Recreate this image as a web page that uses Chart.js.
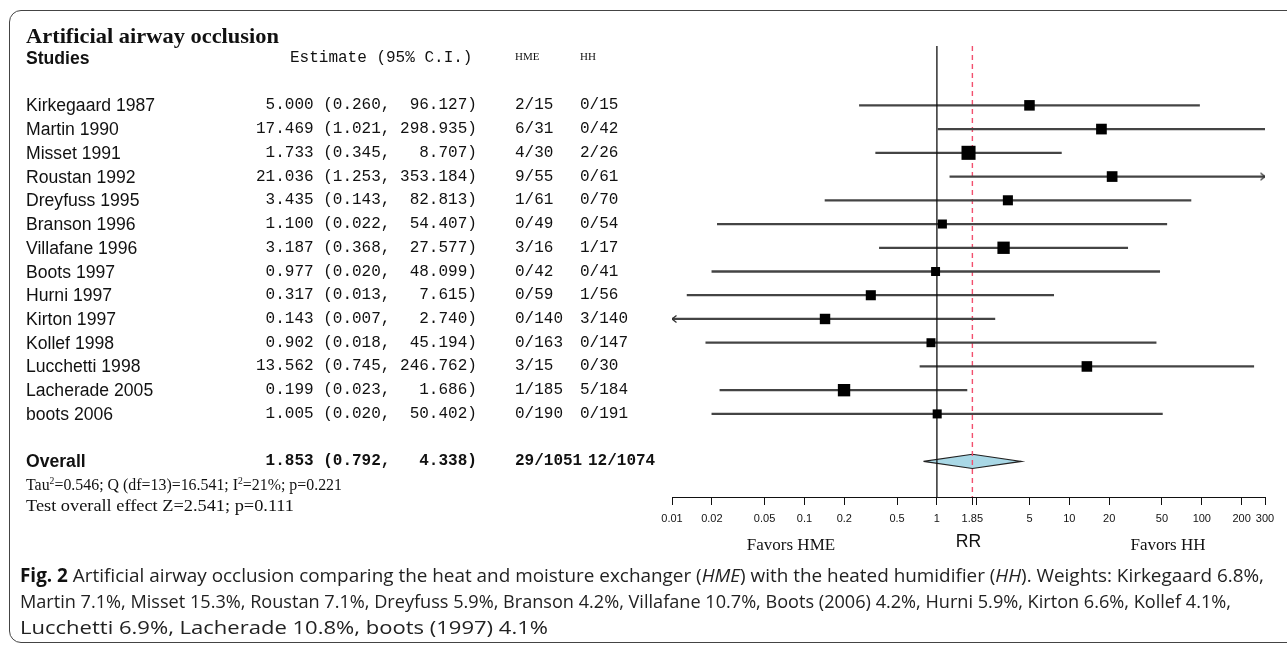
<!DOCTYPE html>
<html>
<head>
<meta charset="utf-8">
<title>Artificial airway occlusion</title>
<script src="https://cdn.jsdelivr.net/npm/chart.js@4.4.0/dist/chart.umd.min.js"></script>
<style>
  body { margin: 0; background: #fff; }
  #wrap { position: relative; width: 1287px; height: 647px; overflow: hidden; background: #fff; }
  #chart { position: absolute; left: 0; top: 0; }
  .frame { position: absolute; left: 9px; top: 10px; width: 1320px; height: 633px; border: 1.5px solid #444; border-radius: 12px; box-sizing: border-box; }
  .t { position: absolute; white-space: pre; color: #111; line-height: 20px; transform-origin: 0 50%; }
  .sans { font-family: "Liberation Sans", Arial, sans-serif; font-size: 17.6px; }
  .mono { font-family: "Liberation Mono", "Courier New", monospace; font-size: 16px; }
  .serif { font-family: "Liberation Serif", "Times New Roman", serif; font-size: 16px; }
  .bold { font-weight: bold; }
  .capline { position: absolute; left: 20px; white-space: nowrap; font-family: "Open Sans", "Noto Sans", sans-serif; font-size: 19px; color: #222; line-height: 24px; transform-origin: 0 50%; }
  .capline b { color: #111; }
  sup { font-size: 10px; line-height: 0; }
</style>
</head>
<body>
<div id="wrap">
  <div class="frame"></div>
  <canvas id="chart" width="1287" height="647"></canvas>
  <div class="t serif bold" data-w="253" style="left:26px; top:24px; font-size:22px; line-height:24px;">Artificial airway occlusion</div>
  <div class="t serif" data-w="316" style="left:26px; top:475px; font-size:16.5px;">Tau<sup>2</sup>=0.546; Q (df=13)=16.541; I<sup>2</sup>=21%; p=0.221</div>
  <div class="t serif" data-w="268" style="left:26px; top:496px;">Test overall effect Z=2.541; p=0.111</div>
  <div class="capline" data-w="1244" style="top:563px;"><b>Fig. 2</b> Artificial airway occlusion comparing the heat and moisture exchanger (<i>HME</i>) with the heated humidifier (<i>HH</i>). Weights: Kirkegaard 6.8%,</div>
  <div class="capline" data-w="1211" style="top:589px;">Martin 7.1%, Misset 15.3%, Roustan 7.1%, Dreyfuss 5.9%, Branson 4.2%, Villafane 10.7%, Boots (2006) 4.2%, Hurni 5.9%, Kirton 6.6%, Kollef 4.1%,</div>
  <div class="capline" data-w="528" style="top:615px;">Lucchetti 6.9%, Lacherade 10.8%, boots (1997) 4.1%</div>
</div>
<script>
// Data

const studies = [
	"Kirkegaard 1987",
	"Martin 1990",
	"Misset 1991",
	"Roustan 1992",
	"Dreyfuss 1995",
	"Branson 1996",
	"Villafane 1996",
	"Boots 1997",
	"Hurni 1997",
	"Kirton 1997",
	"Kollef 1998",
	"Lucchetti 1998",
	"Lacherade 2005",
	"boots 2006"
];
const estimate = [5.000, 17.469, 1.733, 21.036, 3.435, 1.100, 3.187, 0.977, 0.317, 0.143, 0.902, 13.562, 0.199, 1.005];
const lower = [0.260, 1.021, 0.345, 1.253, 0.143, 0.022, 0.368, 0.020, 0.013, 0.007, 0.018, 0.745, 0.023, 0.020];
const upper = [96.127, 298.935, 8.707, 353.184, 82.813, 54.407, 27.577, 48.099, 7.615, 2.740, 45.194, 246.762, 1.686, 50.402];
const hmeEvents = ["2/15", "6/31", "4/30", "9/55", "1/61", "0/49", "3/16", "0/42", "0/59", "0/140", "0/163", "3/15", "1/185", "0/190"];
const hhEvents = ["0/15", "0/42", "2/26", "0/61", "0/70", "0/54", "1/17", "0/41", "1/56", "3/140", "0/147", "0/30", "5/184", "0/191"];
const weights = [6.8, 7.1, 15.3, 7.1, 5.9, 4.2, 10.7, 4.1, 5.9, 6.6, 4.1, 6.9, 10.8, 4.2];

const overallEstimate = 1.853;
const overallLower = 0.792;
const overallUpper = 4.338;
const overallHme = "29/1051";
const overallHh = "12/1074";

const tickValues = [0.01, 0.02, 0.05, 0.1, 0.2, 0.5, 1, 1.85, 2, 5, 10, 20, 50, 100, 200, 300];
const tickLabels = ["0.01", "0.02", "0.05", "0.1", "0.2", "0.5", "1", "1.85", "", "5", "10", "20", "50", "100", "200", "300"];

// Layout
const xMin = 0.01, xMax = 300;
const yTop = -2.5, yBottom = 16.5;
const headerRow = -2;
const overallRow = studies.length + 1;
const diamondHalf = 0.3;
const areaTop = 46, areaBottom = 497;

const boxSide = w => 3.5 + 2.7 * Math.sqrt(w);

function chevron(dir) {
	const c = document.createElement("canvas");
	c.width = 14;
	c.height = 10;
	const g = c.getContext("2d");
	g.strokeStyle = "#333";
	g.lineWidth = 1.3;
	g.beginPath();
	if (dir > 0) {
		g.moveTo(2.5, 1.5); g.lineTo(7, 5); g.lineTo(2.5, 8.5);
	} else {
		g.moveTo(11.5, 1.5); g.lineTo(7, 5); g.lineTo(11.5, 8.5);
	}
	g.stroke();
	return c;
}
const arrowRight = chevron(1);
const arrowLeft = chevron(-1);

let ciBars = studies.map((s, i) => ({ x: [lower[i], upper[i]], y: i }));
let boxes = studies.map((s, i) => ({ x: estimate[i], y: i }));
let arrows = [];
studies.forEach((s, i) => {
	if (upper[i] > xMax) arrows.push({ x: xMax, y: i, dir: 1 });
	if (lower[i] < xMin) arrows.push({ x: xMin, y: i, dir: -1 });
});
let diamond = [
	{ x: overallLower, y: overallRow },
	{ x: overallEstimate, y: overallRow - diamondHalf },
	{ x: overallUpper, y: overallRow },
	{ x: overallEstimate, y: overallRow + diamondHalf },
	{ x: overallLower, y: overallRow }
];

const pad = { left: 672, right: 22, top: areaTop, bottom: 120 };

// Chart
const chart = new Chart(document.getElementById("chart"), {
	type: "line",
	data: {
		datasets: [
			{
				type: "line",
				data: diamond,
				fill: "shape",
				backgroundColor: "#a9d8e6",
				borderColor: "#222",
				borderWidth: 1.2,
				pointRadius: 0,
				tension: 0,
				order: 6
			},
			{
				type: "line",
				data: [{ x: overallEstimate, y: yTop }, { x: overallEstimate, y: yBottom }],
				borderColor: "#f2506e",
				borderWidth: 1.4,
				borderDash: [5, 4],
				pointRadius: 0,
				order: 5
			},
			{
				type: "bar",
				data: ciBars,
				indexAxis: "y",
				barThickness: 1.6,
				backgroundColor: "#444",
				borderWidth: 0,
				order: 4
			},
			{
				type: "line",
				data: [{ x: 1, y: yTop }, { x: 1, y: yBottom }],
				borderColor: "#111",
				borderWidth: 1.3,
				pointRadius: 0,
				order: 3
			},
			{
				type: "line",
				data: boxes,
				showLine: false,
				pointStyle: "rect",
				pointRadius: ctx => boxSide(weights[ctx.dataIndex]) / Math.SQRT2,
				pointBackgroundColor: "#000",
				pointBorderWidth: 0,
				order: 2
			},
			{
				type: "line",
				data: arrows,
				showLine: false,
				pointStyle: ctx => (ctx.raw && ctx.raw.dir > 0 ? arrowRight : arrowLeft),
				pointRadius: 5,
				order: 1
			}
		]
	},
	options: {
		responsive: false,
		animation: false,
		events: [],
		layout: { padding: pad },
		plugins: { legend: { display: false }, tooltip: { enabled: false } },
		scales: {
			x: {
				type: "logarithmic",
				min: xMin,
				max: xMax,
				offset: false,
				position: "bottom",
				afterBuildTicks: scale => {
					scale.ticks = tickValues.map(v => ({ value: v }));
				},
				ticks: {
					autoSkip: false,
					maxRotation: 0,
					padding: 7,
					color: "#111",
					font: { family: "Liberation Sans", size: 11 },
					callback: (v, i) => tickLabels[i]
				},
				grid: { drawOnChartArea: false, drawTicks: true, tickLength: 8, color: "#111", offset: false },
				border: { display: true, color: "#111", width: 1 }
			},
			y: { type: "linear", reverse: true, min: yTop, max: yBottom, offset: false, display: false, grid: { offset: false } }
		}
	}
});

// nudge the padding so the plot area sits where the original one does
for (let k = 0; k < 3; k++) {
	const a = chart.chartArea;
	const dt = areaTop - a.top, db = a.bottom - areaBottom;
	if (Math.abs(dt) < 0.5 && Math.abs(db) < 0.5) break;
	pad.top += dt;
	pad.bottom += db;
	chart.update();
}

// Table text, placed on the chart rows
const wrap = document.getElementById("wrap");
const yScale = chart.scales.y;
const xScale = chart.scales.x;

function put(html, x, y, cls, extra) {
	const d = document.createElement("div");
	d.className = "t " + cls;
	d.innerHTML = html;
	d.style.left = x + "px";
	d.style.top = (y - 10) + "px";
	if (extra) d.style.cssText += extra;
	wrap.appendChild(d);
	return d;
}

const fmt = (v, w) => v.toFixed(3).padStart(w);
const ciText = (e, lo, hi) => fmt(e, 6) + " (" + lo.toFixed(3) + ", " + fmt(hi, 7) + ")";

let hy = yScale.getPixelForValue(headerRow);
put("Studies", 26, hy, "sans bold");
put("Estimate (95% C.I.)", 290, hy, "mono");
put("HME", 515, hy - 2, "serif", "font-size:11px;");
put("HH", 580, hy - 2, "serif", "font-size:11px;");

studies.forEach((s, i) => {
	let y = yScale.getPixelForValue(i);
	put(s, 26, y, "sans");
	put(ciText(estimate[i], lower[i], upper[i]), 256, y, "mono");
	put(hmeEvents[i], 515, y, "mono");
	put(hhEvents[i], 580, y, "mono");
});

let oy = yScale.getPixelForValue(overallRow);
put("Overall", 26, oy, "sans bold");
put(ciText(overallEstimate, overallLower, overallUpper), 256, oy, "mono bold");
put(overallHme, 515, oy, "mono bold");
put(overallHh, 588, oy, "mono bold");

// Axis labels
let mid = (xScale.left + xScale.right) / 2;
put("RR", mid, 541, "sans", "transform:translateX(-50%);");
put("Favors HME", 791, 545, "serif", "font-size:17px; transform:translateX(-50%);");
put("Favors HH", 1168, 545, "serif", "font-size:17px; transform:translateX(-50%);");

// Fit text lines to the widths they have in the original
document.querySelectorAll("[data-w]").forEach(el => {
	const w = el.getBoundingClientRect().width;
	el.style.transform = "scaleX(" + (+el.dataset.w / w) + ")";
});
</script>
</body>
</html>
